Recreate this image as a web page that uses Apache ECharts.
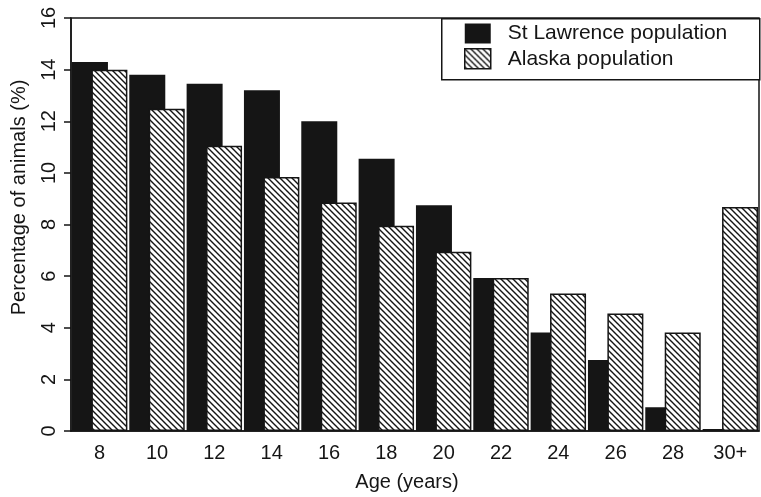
<!DOCTYPE html>
<html>
<head>
<meta charset="utf-8">
<script src="https://cdn.jsdelivr.net/npm/echarts@6/dist/echarts.min.js"></script>
<style>
html,body{margin:0;padding:0;background:#fff;}
#chart{width:761px;height:497px;}
</style>
</head>
<body>
<div id="chart"></div>
<script>
var categories = ['8','10','12','14','16','18','20','22','24','26','28','30+'];
var stLawrence = [14.3, 13.8, 13.45, 13.2, 12.0, 10.55, 8.75, 5.93, 3.82, 2.75, 0.92, 0.08];
var alaska = [14.0, 12.48, 11.05, 9.84, 8.85, 7.95, 6.94, 5.93, 5.33, 4.55, 3.82, 8.68];
var seriesNames = ['St Lawrence population', 'Alaska population'];

function makeHatch() {
  var s = 6;
  var c = document.createElement('canvas');
  c.width = s; c.height = s;
  var ctx = c.getContext('2d');
  ctx.fillStyle = '#ffffff';
  ctx.fillRect(0, 0, s, s);
  ctx.strokeStyle = '#151515';
  ctx.lineWidth = 1.4;
  ctx.beginPath();
  ctx.moveTo(-1, -1); ctx.lineTo(s + 1, s + 1);
  ctx.moveTo(s - 1, -1); ctx.lineTo(s + 1, 1);
  ctx.moveTo(-1, s - 1); ctx.lineTo(1, s + 1);
  ctx.stroke();
  return c;
}
var hatch = { image: makeHatch(), repeat: 'repeat' };
var ink = '#151515';
var font = 'Liberation Sans, Arial, sans-serif';

var chart = echarts.init(document.getElementById('chart'), null, {renderer: 'canvas'});
chart.setOption({
  backgroundColor: '#ffffff',
  animation: false,
  textStyle: { fontFamily: font, color: ink },
  grid: { left: 71, right: 2, top: 18, bottom: 66, show: true, borderColor: ink, borderWidth: 1.5, backgroundColor: 'transparent' },
  graphic: [{
    type: 'rect', left: 441, top: 18, z: 10,
    shape: { width: 318, height: 61 },
    style: { fill: '#ffffff', stroke: ink, lineWidth: 1.5 }
  }],
  legend: {
    orient: 'vertical', left: 464, top: 23, z: 20,
    padding: 0, itemWidth: 26, itemHeight: 20, itemGap: 4,
    textStyle: { fontSize: 21, color: ink, fontFamily: font, padding: [0, 0, 0, 12] },
    data: [
      { name: seriesNames[0], icon: 'rect', itemStyle: { color: ink, borderWidth: 0 } },
      { name: seriesNames[1], icon: 'rect', itemStyle: { color: hatch, borderColor: ink, borderWidth: 1.5 } }
    ],
    selectedMode: false
  },
  xAxis: {
    type: 'category', data: categories,
    name: 'Age (years)', nameLocation: 'middle', nameGap: 41,
    nameTextStyle: { fontSize: 20, color: ink, fontFamily: font, padding: [0, 16, 0, 0] },
    axisLine: { lineStyle: { color: ink, width: 1.5 } },
    axisTick: { alignWithLabel: true, length: 6, lineStyle: { color: ink, width: 1.5 } },
    axisLabel: { fontSize: 20, color: ink, margin: 12, fontFamily: font }
  },
  yAxis: {
    type: 'value', min: 0, max: 16, interval: 2,
    name: 'Percentage of animals (%)', nameLocation: 'middle', nameGap: 42,
    nameTextStyle: { fontSize: 20, color: ink, fontFamily: font, padding: [0, 0, 0, 54] },
    splitLine: { show: false },
    axisLine: { show: true, lineStyle: { color: ink, width: 1.5 } },
    axisTick: { show: true, length: 7, lineStyle: { color: ink, width: 1.5 } },
    axisLabel: { rotate: 90, fontSize: 20, color: ink, margin: 12, fontFamily: font }
  },
  series: [
    { name: seriesNames[0], type: 'bar', data: stLawrence, barWidth: 36, barGap: '-46%',
      itemStyle: { color: ink } },
    { name: seriesNames[1], type: 'bar', data: alaska, barWidth: 36, barGap: '-46%',
      itemStyle: { color: hatch, borderColor: ink, borderWidth: 1.5 } }
  ]
});
</script>
</body>
</html>
